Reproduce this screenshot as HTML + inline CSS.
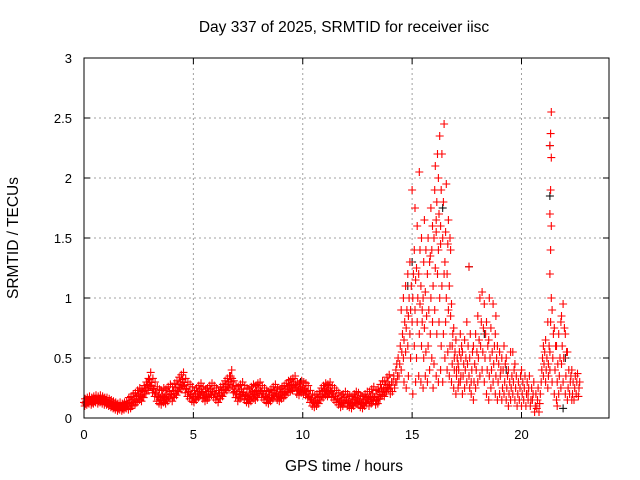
<!DOCTYPE html>
<html><head><meta charset="utf-8"><style>
body{margin:0;background:#fff}
svg{display:block;font-family:"Liberation Sans",sans-serif}
</style></head><body>
<svg id="c" width="640" height="480" xmlns="http://www.w3.org/2000/svg">
<text x="344" y="32" font-size="15.5" text-anchor="middle">Day 337 of 2025, SRMTID for receiver iisc</text>
<text x="344" y="471" font-size="15.5" text-anchor="middle">GPS time / hours</text>
<text transform="translate(18,238) rotate(-90)" font-size="15.5" text-anchor="middle">SRMTID / TECUs</text>
<g id="grid"></g><g id="ticks"></g><g id="marks"></g>
<rect x="84" y="58" width="525" height="360" fill="none" stroke="#000" stroke-width="1"/>
</svg>
<script>
const xTicks=[0,5,10,15,20];
const yTicks=[0,0.5,1,1.5,2,2.5,3];
const yTickLabels=["0","0.5","1","1.5","2","2.5","3"];
const baseMid=[.13,.14,.15,.14,.15,.16,.15,.16,.15,.14,
.14,.13,.12,.11,.10,.09,.10,.09,.10,.11,
.12,.13,.15,.16,.18,.20,.19,.22,.25,.28,
.32,.27,.24,.20,.18,.17,.19,.18,.20,.22,
.20,.23,.25,.28,.30,.32,.27,.24,.22,.20,
.18,.20,.22,.24,.21,.19,.20,.22,.24,.22,
.20,.18,.21,.23,.26,.28,.30,.35,.26,.22,
.20,.22,.24,.21,.19,.18,.20,.22,.21,.23,
.25,.22,.20,.18,.17,.19,.21,.23,.20,.19,
.21,.22,.24,.26,.27,.28,.30,.25,.24,.26,
.25,.24,.22,.18,.15,.14,.15,.17,.20,.22,
.24,.23,.25,.22,.20,.18,.16,.14,.15,.17,
.15,.14,.13,.15,.17,.16,.14,.13,.15,.17,
.16,.18,.20,.17,.18,.22,.25,.24,.28,.30];
const baseSpread=[.03,.03,.05,.06,.06,.05,.05,.06,.05,.05,.05,.05,.05,.06];
const actTimes=[14.0,14.1,14.2,14.3,14.4,14.5,14.6,14.7,14.8,14.9,15.0,15.1,15.2,15.3,15.4,15.5,15.6,15.7,15.8,15.9,16.0,16.1,16.2,16.3,16.4,16.5,16.6,16.7,16.8,16.9,17.0,17.1,17.2,17.3,17.4,17.5,17.6,17.7,17.8,17.9,18.0,18.1,18.2,18.3,18.4,18.5,18.6,18.7,18.8,18.9,19.0,19.1,19.2,19.3,19.4,19.5,19.6,19.7,19.8,19.9,20.0,20.1,20.2,20.3,20.4,20.5,20.6,20.7,20.8,20.9,21.0,21.1,21.2,21.3,21.4,21.5,21.6,21.7,21.8,21.9,22.0,22.1,22.2,22.3,22.4,22.5,22.6];
const actValues=[[.2,.25,.3],[.22,.3,.35],[.25,.3,.4],[.3,.35,.5,.45],[.35,.45,.6],[.4,.55,.7,.9],[.5,.65,.8,1.0,.3],[.55,.75,.9,1.1,.25],[.6,.85,1.0,1.2,.35],[.7,.9,1.1,1.3,.5],
[.8,1.0,1.2,1.9,.2],[.6,.9,1.15,1.4,1.75,.3],[.5,.8,1.0,1.25,1.6],[.35,.7,.95,1.2,2.05,1.4],[.3,.6,.9,1.1,1.5,.8],[.25,.5,.75,1.0,1.3,1.65],[.35,.55,.85,1.05,1.4],[.3,.6,.9,1.2,1.5],[.4,.7,1.0,1.3,1.35,1.75],[.5,.8,1.1,1.4,1.6,.25],
[.45,.9,1.25,1.5,1.9,2.1],[.35,.7,1.2,1.55,1.8,2.2,1.65],[.3,.8,1.0,1.4,1.7,2.35,2.0],[.4,.6,1.1,1.45,1.9,2.2,1.6],[.3,.7,1.2,1.5,1.8,2.45],[.5,.8,1.0,1.3,1.55,1.95],[.4,.55,.9,1.2,1.45,1.65],[.35,.6,.85,1.1,1.5,1.4],[.3,.45,.7,.95,.6],[.25,.4,.55,.75,.5],
[.2,.35,.5,.65,.4],[.25,.4,.55,.45,.3],[.3,.5,.6,.7,.35],[.2,.35,.45,.55],[.25,.4,.5,.65],[.3,.45,.6,.8],[.35,.5,.7,1.26,.25],[.2,.4,.55,.3],[.15,.3,.45,.6],[.25,.4,.55,.7],
[.3,.5,.65,.85],[.35,.6,.8,1.0],[.4,.55,.75,1.05],[.3,.5,.7,.95],[.2,.4,.6,.8],[.15,.35,.5,.65,1.0],[.25,.4,.55,.75],[.3,.45,.6,.95],[.2,.35,.5,.7,.85],[.15,.3,.45,.6],
[.2,.35,.4,.55],[.15,.25,.4,.5],[.2,.3,.45,.6],[.15,.25,.35,.5],[.1,.2,.3,.4],[.15,.25,.35,.55],[.2,.3,.4,.55],[.15,.25,.35,.45],[.1,.2,.3],[.15,.25,.35],
[.1,.2,.3,.4],[.15,.25,.35],[.1,.2,.3],[.2,.25,.35,.15],[.1,.15,.25],[.15,.2,.3],[.05,.1,.2],[.08,.15,.25],[.05,.12,.2],[.3,.4,.5],
[.35,.45,.55,.6],[.3,.4,.5,.65],[.25,.45,.6,.8,.35],[.55,.8,1.0,1.2,1.4,1.6,1.7,1.9,2.17,2.27,2.37,2.55,.4],[.3,.5,.7,.9],[.2,.4,.6,.75],[.15,.3,.45,.6,.1],[.2,.35,.5,.7],[.25,.45,.6,.8,.85],[.3,.5,.75,.95],
[.2,.35,.55,.7],[.15,.25,.4,.55],[.2,.3,.35],[.15,.2,.3,.4],[.15,.25,.35],[.2,.3,.37],[.18,.25,.3]];
const blackTimes=[9.9,14.8,15.0,16.4,17.6,18.3,19.3,21.3,21.3,21.9,22.0];
const blackValues=[.3,1.1,1.3,1.75,1.26,.7,.4,1.85,2.27,.08,.5];

const NS="http://www.w3.org/2000/svg";
const X0=84,X1=609,Y0=418,Y1=58,XMAX=24,YMAX=3;
const sx=h=>X0+h/XMAX*(X1-X0);
const sy=v=>Y0-v/YMAX*(Y0-Y1);
const grid=document.getElementById('grid'),ticks=document.getElementById('ticks'),marks=document.getElementById('marks');
function mk(tag,attrs,parent){const e=document.createElementNS(NS,tag);for(const k in attrs)e.setAttribute(k,attrs[k]);parent.appendChild(e);return e;}
xTicks.forEach(t=>{
 const x=sx(t);
 if(t>0){const g=mk('line',{x1:x,x2:x,y1:Y1,y2:Y0,stroke:'#a0a0a0','stroke-dasharray':'2,3'},grid);
 
 }
 mk('line',{x1:x,x2:x,y1:Y0,y2:Y0-6,stroke:'#000'},ticks);
 mk('line',{x1:x,x2:x,y1:Y1,y2:Y1+6,stroke:'#000'},ticks);
 const l=mk('text',{x:x,y:Y0+21,'font-size':13,'text-anchor':'middle'},ticks);l.textContent=String(t);
 
 
});
yTicks.forEach((t,i)=>{
 const y=sy(t);
 if(t>0&&t<YMAX){const g=mk('line',{x1:X0,x2:X1,y1:y,y2:y,stroke:'#a0a0a0','stroke-dasharray':'2,3'},grid);
 
 }
 mk('line',{x1:X0,x2:X0+6,y1:y,y2:y,stroke:'#000'},ticks);
 mk('line',{x1:X1,x2:X1-6,y1:y,y2:y,stroke:'#000'},ticks);
 const l=mk('text',{x:X0-12,y:y+5,'font-size':13,'text-anchor':'end'},ticks);l.textContent=yTickLabels[i];
 
 
});
let dB='',dR='';
const plus=(h,v)=>{const x=sx(h),y=sy(v);return `M${(x-4).toFixed(1)} ${y.toFixed(1)}h8M${x.toFixed(1)} ${(y-4).toFixed(1)}v8`;};
blackTimes.forEach((h,i)=>{dB+=plus(h,blackValues[i]);});
baseMid.forEach((v,i)=>{
 const h=i*0.1,s=baseSpread[Math.floor(h)];
 dR+=plus(h,v)+plus(h+0.05,v+s)+plus(h+0.03,Math.max(0.02,v-s))+plus(h+0.07,v-s*0.4);
});
actTimes.forEach((h,i)=>{actValues[i].forEach((v,j)=>{dR+=plus(h+(j%3)*0.03,v);});});
const pb=mk('path',{d:dB,stroke:'#000',fill:'none','stroke-width':1},marks);


const pr=mk('path',{d:dR,stroke:'#ff0000',fill:'none','stroke-width':1.1},marks);


</script>
</body></html>
